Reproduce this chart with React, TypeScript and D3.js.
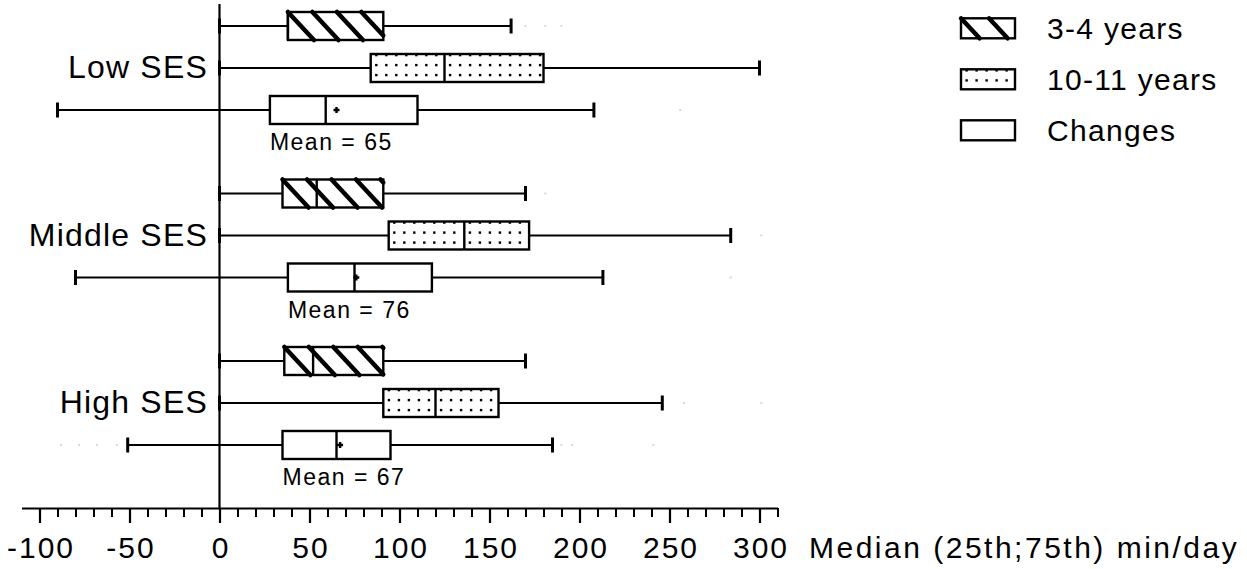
import { useRef, useEffect } from "react";
import * as d3 from "d3";

// groups (rows of the chart) and the three boxes drawn in each group
const groups = ["Low SES", "Middle SES", "High SES"];
const seriesNames = ["3-4 years", "10-11 years", "Changes"];

// five-number summaries per group: [min, q1, median, q3, max]
const years34 = [
  [0, 38, 38, 91, 162],
  [0, 35, 54, 91, 170],
  [0, 36, 52, 91, 170],
];
const years1011 = [
  [0, 84, 125, 180, 300],
  [0, 94, 136, 172, 284],
  [0, 91, 120, 155, 246],
];
const changes = [
  [-90, 28, 59, 110, 208],
  [-80, 38, 75, 118, 213],
  [-51, 35, 65, 95, 185],
];
const changeMeans = [65, 76, 67];

// faint outlier marks
const outliers34 = [[170, 181, 190], [181], []];
const outliers1011 = [[], [301], [258, 301]];
const outliersChanges = [[256], [284], [-88, -78, -68, -57, 190, 196, 241]];

const majorTicks = [-100, -50, 0, 50, 100, 150, 200, 250, 300];
const axisTitle = "Median (25th;75th) min/day";

const FONT = "'Liberation Sans', Arial, Helvetica, sans-serif";

type Fill = "hatch" | "dots" | "none";
const fills: Fill[] = ["hatch", "dots", "none"];

type G = d3.Selection<SVGGElement, unknown, null, undefined>;

export default function App() {
  const svgRef = useRef<SVGSVGElement>(null);

  useEffect(() => {
    if (!svgRef.current) return;
    const width = 1247;
    const height = 569;
    const axisY = 508;
    const boxH = 28;

    const svg = d3.select(svgRef.current);
    svg.selectAll("*").remove();
    svg.attr("width", width).attr("height", height);

    const x = d3.scaleLinear().domain([-110, 310]).range([21.5, 777.5]);
    const yGroup = d3.scalePoint<string>().domain(groups).range([68, 403]);
    const yRow = d3.scalePoint<string>().domain(seriesNames).range([-42, 42]);

    const summaries = [years34, years1011, changes];
    const outliers = [outliers34, outliers1011, outliersChanges];

    const g = svg.append("g");

    // hatch and dot fills, drawn inside a rectangle
    const drawHatch = (sel: G, left: number, right: number, top: number, h: number, step: number) => {
      const slope = 0.93;
      for (let x0 = left; x0 <= right + 0.5; x0 += step) {
        let x1 = x0 + h * slope;
        let y1 = top + h;
        if (x1 > right) {
          x1 = right;
          y1 = top + (right - x0) / slope;
        }
        sel
          .append("line")
          .attr("x1", x0)
          .attr("y1", top)
          .attr("x2", x1)
          .attr("y2", y1)
          .attr("stroke", "#000")
          .attr("stroke-width", 4.5)
          .attr("stroke-linecap", "round");
      }
    };

    const drawDots = (sel: G, left: number, right: number, top: number, h: number) => {
      for (let yy = top + 1; yy < top + h - 2; yy += 10) {
        for (let xx = left + 5.5; xx < right - 2; xx += 10) {
          sel
            .append("rect")
            .attr("x", xx - 1.1)
            .attr("y", yy - 1.1)
            .attr("width", 2.4)
            .attr("height", 2.4)
            .attr("fill", "#000");
        }
      }
    };

    // Boxes
    seriesNames.forEach((s, si) => {
      groups.forEach((grp, gi) => {
        const [mn, q1, med, q3, mx] = summaries[si][gi];
        const cy = (yGroup(grp) ?? 0) + (yRow(s) ?? 0);
        const top = cy - boxH / 2;
        const bg = g.append("g");

        // outliers
        outliers[si][gi].forEach((v) => {
          bg.append("rect")
            .attr("x", x(v) - 1)
            .attr("y", cy - 1)
            .attr("width", 2)
            .attr("height", 2)
            .attr("fill", "#d8d8d8");
        });

        // whisker
        bg.append("line")
          .attr("x1", x(mn))
          .attr("x2", x(mx))
          .attr("y1", cy)
          .attr("y2", cy)
          .attr("stroke", "#000")
          .attr("stroke-width", 2.2);
        [mn, mx].forEach((v) => {
          bg.append("line")
            .attr("x1", x(v))
            .attr("x2", x(v))
            .attr("y1", cy - 7.5)
            .attr("y2", cy + 7.5)
            .attr("stroke", "#000")
            .attr("stroke-width", 3);
        });

        // box
        bg.append("rect")
          .attr("x", x(q1))
          .attr("y", top)
          .attr("width", x(q3) - x(q1))
          .attr("height", boxH)
          .attr("fill", "#fff")
          .attr("stroke", "#000")
          .attr("stroke-width", 2.4);

        if (fills[si] === "hatch") drawHatch(bg, x(q1), x(q3), top, boxH, 24.5);
        if (fills[si] === "dots") {
          drawDots(bg, x(q1), x(med), top, boxH);
          drawDots(bg, x(med), x(q3), top, boxH);
        }

        // median
        bg.append("line")
          .attr("x1", x(med))
          .attr("x2", x(med))
          .attr("y1", top)
          .attr("y2", top + boxH)
          .attr("stroke", "#000")
          .attr("stroke-width", 2.4);

        if (s === "Changes") {
          const m = changeMeans[gi];
          bg.append("path")
            .attr("d", `M${x(m) - 3},${cy}H${x(m) + 3}M${x(m)},${cy - 3}V${cy + 3}`)
            .attr("stroke", "#000")
            .attr("stroke-width", 2.4);
          bg.append("text")
            .attr("x", x(q1))
            .attr("y", cy + 40)
            .style("font-family", FONT)
            .style("font-size", "23px")
            .style("letter-spacing", "1.5px")
            .attr("fill", "#000")
            .text(`Mean = ${m}`);
        }
      });
    });

    // Group labels
    groups.forEach((grp) => {
      g.append("text")
        .attr("x", 208)
        .attr("y", (yGroup(grp) ?? 0) + 10)
        .attr("text-anchor", "end")
        .style("font-family", FONT)
        .style("font-size", "32px")
        .style("letter-spacing", "1.2px")
        .attr("fill", "#000")
        .text(grp);
    });

    // Vertical zero line
    g.append("line")
      .attr("x1", x(0))
      .attr("x2", x(0))
      .attr("y1", 4)
      .attr("y2", axisY)
      .attr("stroke", "#000")
      .attr("stroke-width", 2.2);

    // X axis: minor ticks
    g.append("g")
      .attr("transform", `translate(0,${axisY})`)
      .call(
        d3
          .axisBottom(x)
          .tickValues(d3.range(-100, 311, 10))
          .tickSize(9)
          .tickSizeOuter(0)
          .tickFormat(() => "")
      )
      .call((a) => a.select(".domain").attr("stroke", "#000").attr("stroke-width", 2.2))
      .call((a) => a.selectAll(".tick line").attr("stroke", "#000").attr("stroke-width", 2));

    // X axis: major ticks and labels
    g.append("g")
      .attr("transform", `translate(0,${axisY})`)
      .call(
        d3
          .axisBottom(x)
          .tickValues(majorTicks)
          .tickSize(15)
          .tickSizeOuter(0)
          .tickFormat((d) => String(d))
      )
      .call((a) => a.select(".domain").remove())
      .call((a) => a.selectAll(".tick line").attr("stroke", "#000").attr("stroke-width", 2.2))
      .selectAll("text")
      .attr("y", 50)
      .attr("dy", 0)
      .attr("dx", 1)
      .attr("fill", "#000")
      .style("font-family", FONT)
      .style("font-size", "30px")
      .style("letter-spacing", "2px");

    g.append("text")
      .attr("x", 809)
      .attr("y", axisY + 50)
      .style("font-family", FONT)
      .style("font-size", "30px")
      .style("letter-spacing", "2.5px")
      .attr("fill", "#000")
      .text(axisTitle);

    // Legend
    const legend = g.append("g");
    seriesNames.forEach((s, i) => {
      const cy = 28.3 + i * 51;
      const lg = legend.append("g");
      const lx = 961;
      const lw = 54;
      const lh = 20;
      lg.append("rect")
        .attr("x", lx)
        .attr("y", cy - lh / 2)
        .attr("width", lw)
        .attr("height", lh)
        .attr("fill", "#fff")
        .attr("stroke", "#000")
        .attr("stroke-width", 2.4);
      if (fills[i] === "hatch") drawHatch(lg, lx, lx + lw - 6, cy - lh / 2, lh, 28);
      if (fills[i] === "dots") drawDots(lg, lx, lx + lw, cy - lh / 2, lh);
      lg.append("text")
        .attr("x", 1047)
        .attr("y", cy + 11)
        .style("font-family", FONT)
        .style("font-size", "30px")
        .style("letter-spacing", "1.3px")
        .attr("fill", "#000")
        .text(s);
    });
  }, []);

  return (
    <div style={{ position: "absolute", left: 0, top: 0, background: "#fff" }}>
      <svg ref={svgRef} style={{ display: "block" }} />
    </div>
  );
}
